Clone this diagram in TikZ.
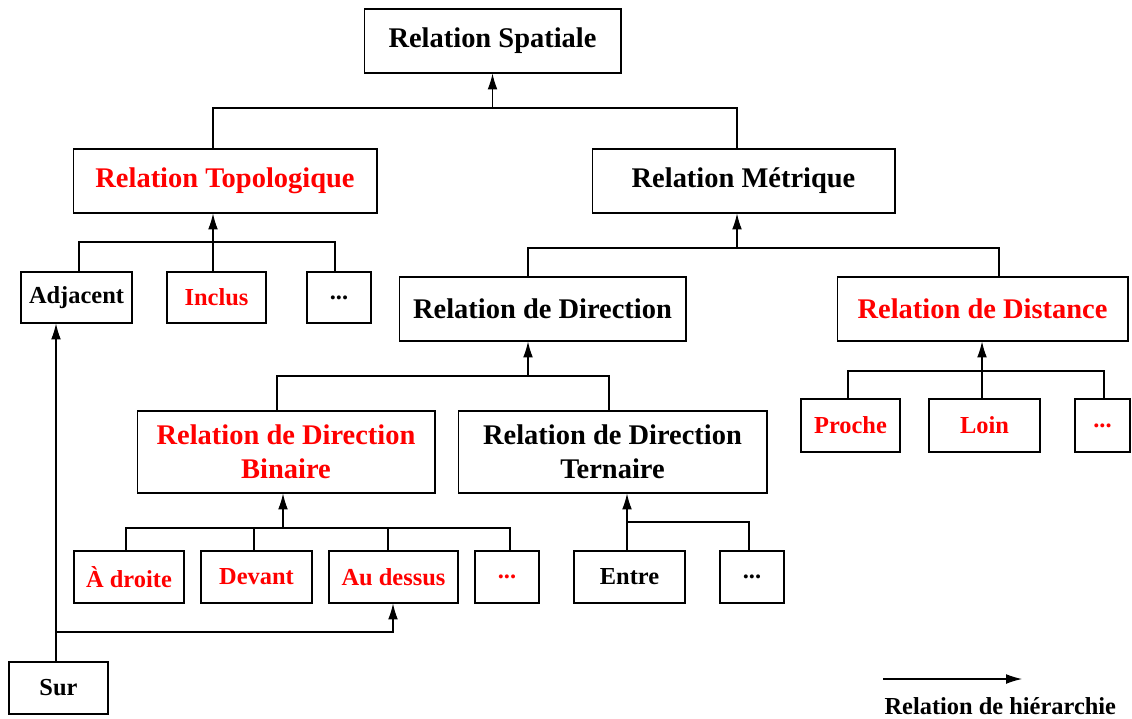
\documentclass[tikz,border=0pt]{standalone}
\usepackage{fontspec}
\setmainfont{Liberation Serif}
\usepackage{tikz}
\usetikzlibrary{arrows.meta}

\newcommand{\grandtexte}{\fontsize{16.2}{19.3}\selectfont\bfseries}
\newcommand{\petittexte}{\fontsize{13.9}{16}\selectfont\bfseries}
\tikzset{
  boite/.style={draw,rectangle,inner sep=0pt,align=center,font=\grandtexte,minimum height=1.28cm},
  boitep/.style={draw,rectangle,inner sep=0pt,align=center,font=\petittexte,minimum height=1.04cm},
  rouge/.style={text=red}
}

\begin{document}
\begin{tikzpicture}[x=0.02cm,y=-0.02cm,line width=0.6pt,>={Latex[length=9pt,width=5.5pt]}]
\useasboundingbox (0,0) rectangle (1132,718);
% boites
\draw node [boite,minimum width=5.14cm] (spat) at (492.5,41) {Relation Spatiale};
\draw node [boite,rouge,minimum width=6.08cm] (topo) at (225,181) {Relation Topologique};
\draw node [boite,minimum width=6.06cm] (metr) at (743.5,181) {Relation Métrique};
\draw node [boitep,minimum width=2.22cm,minimum height=1.02cm] (adj) at (76.5,297.5) {Adjacent};
\draw node [boitep,rouge,minimum width=1.98cm,minimum height=1.02cm] (incl) at (216.5,297.5) {Inclus};
\draw node [boitep,minimum width=1.28cm,minimum height=1.02cm] (pts1) at (339,297.5) {...};
\draw node [boite,minimum width=5.74cm] (dir) at (542.5,309) {Relation de Direction};
\draw node [boite,rouge,minimum width=5.82cm] (dist) at (982.5,309) {Relation de Distance};
\draw node [boitep,rouge,minimum width=1.98cm,minimum height=1.06cm] (proche) at (850.5,425.5) {Proche};
\draw node [boitep,rouge,minimum width=2.22cm,minimum height=1.06cm] (loin) at (984.5,425.5) {Loin};
\draw node [boitep,rouge,minimum width=1.10cm,minimum height=1.06cm] (pts4) at (1102.5,425.5) {...};
\draw node [boite,rouge,minimum width=5.96cm,minimum height=1.64cm] (bin) at (286,452) {Relation de Direction\\Binaire};
\draw node [boite,minimum width=6.18cm,minimum height=1.64cm] (tern) at (612.5,452) {Relation de Direction\\Ternaire};
\draw node [boitep,rouge,minimum width=2.2cm] (droite) at (129,577) {À droite};
\draw node [boitep,rouge,minimum width=2.22cm] (devant) at (256.5,577) {Devant};
\draw node [boitep,rouge,minimum width=2.58cm] (dessus) at (393.5,577) {Au dessus};
\draw node [boitep,rouge,minimum width=1.28cm] (pts2) at (507,577) {...};
\draw node [boitep,minimum width=2.22cm] (entre) at (629.5,577) {Entre};
\draw node [boitep,minimum width=1.28cm] (pts3) at (752,577) {...};
\draw node [boitep,minimum width=1.98cm] (sur) at (58.5,688) {Sur};

% points de jonction
\coordinate (b1g) at (213,108);  \coordinate (b1) at (492.5,108); \coordinate (b1d) at (737,108);
\coordinate (b2g) at (79,242);   \coordinate (b2) at (213,242);   \coordinate (b2d) at (335,242);
\coordinate (b3g) at (528,248);  \coordinate (b3) at (737,248);   \coordinate (b3d) at (999,248);
\coordinate (b4g) at (277,376);  \coordinate (b4) at (528,376);   \coordinate (b4d) at (609,376);
\coordinate (b5g) at (848,371);  \coordinate (b5) at (982,371);   \coordinate (b5d) at (1104,371);
\coordinate (b6g) at (126,528);  \coordinate (b6a) at (254,528);  \coordinate (b6) at (283,528);
\coordinate (b6b) at (388,528);  \coordinate (b6d) at (510,528);
\coordinate (b7) at (627,522);   \coordinate (b7d) at (749,522);
\coordinate (b8) at (56,632);    \coordinate (b8d) at (393,632);

% hierarchie
\draw (topo.north -| b1g) -- (b1g) -- (b1d) -- (metr.north -| b1d);
\draw [->] (b1) -- (spat.south);
\draw (adj.north -| b2g) -- (b2g) -- (b2d) -- (pts1.north -| b2d);
\draw [->] (incl.north -| b2) -- (topo.south -| b2);
\draw (dir.north -| b3g) -- (b3g) -- (b3d) -- (dist.north -| b3d);
\draw [->] (b3) -- (metr.south -| b3);
\draw (bin.north -| b4g) -- (b4g) -- (b4d) -- (tern.north -| b4d);
\draw [->] (b4) -- (dir.south -| b4);
\draw (proche.north -| b5g) -- (b5g) -- (b5d) -- (pts4.north -| b5d);
\draw [->] (loin.north -| b5) -- (dist.south -| b5);
\draw (droite.north -| b6g) -- (b6g) -- (b6d) -- (pts2.north -| b6d);
\draw (devant.north -| b6a) -- (b6a);
\draw (dessus.north -| b6b) -- (b6b);
\draw [->] (b6) -- (bin.south -| b6);
\draw [->] (entre.north -| b7) -- (tern.south -| b7);
\draw (b7) -- (b7d) -- (pts3.north -| b7d);
\draw [->] (sur.north -| b8) -- (adj.south -| b8);
\draw [->] (b8) -- (b8d) -- (dessus.south -| b8d);

% legende
\coordinate (l1) at (883,679); \coordinate (l2) at (1022,679);
\draw [->] (l1) -- (l2);
\draw node [anchor=west,inner sep=0pt,font=\petittexte] (leg) at (884,706) {Relation de hiérarchie};
\end{tikzpicture}
\end{document}
